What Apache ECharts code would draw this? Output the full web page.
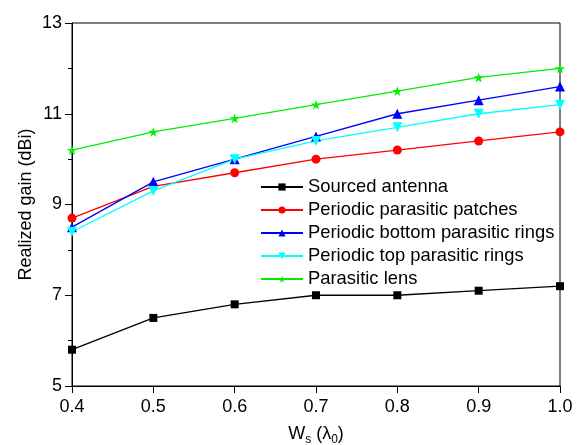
<!DOCTYPE html>
<html>
<head>
<meta charset="utf-8">
<script src="https://cdn.jsdelivr.net/npm/echarts@6/dist/echarts.min.js"></script>
<style>
  html, body { margin: 0; padding: 0; background: #fff; }
  #chart { width: 584px; height: 445px; }
</style>
</head>
<body>
<div id="chart"></div>
<script>
// data
const wsValues = [0.4, 0.5, 0.6, 0.7, 0.8, 0.9, 1.0]
const sourcedAntenna = [5.8, 6.5, 6.8, 7.0, 7.0, 7.1, 7.2]
const parasiticPatches = [8.7, 9.4, 9.7, 10.0, 10.2, 10.4, 10.6]
const bottomRings = [8.5, 9.5, 10.0, 10.5, 11.0, 11.3, 11.6]
const topRings = [8.4, 9.3, 10.0, 10.4, 10.7, 11.0, 11.2]
const parasiticLens = [10.2, 10.6, 10.9, 11.2, 11.5, 11.8, 12.0]

const font = 'Liberation Sans, Arial, sans-serif'
const starPath = 'path://M50,0 L61,35 L98,35 L68,57 L79,91 L50,70 L21,91 L32,57 L2,35 L39,35 Z'

const pairs = arr => arr.map((v, i) => [wsValues[i], v])

function makeSeries (name, data, color, symbol, size, rotate) {
  return {
    name: name,
    type: 'line',
    data: pairs(data),
    symbol: symbol,
    symbolSize: size,
    symbolRotate: rotate || 0,
    showAllSymbol: true,
    lineStyle: { color: color, width: 1.3 },
    itemStyle: { color: color },
    emphasis: { disabled: true }
  }
}

const chart = echarts.init(document.getElementById('chart'))
chart.setOption({
  animation: false,
  textStyle: { fontFamily: font },
  grid: {
    left: 72, right: 24, top: 23, bottom: 59,
    outerBoundsMode: 'none',
    containLabel: false,
    show: true, borderColor: '#000', borderWidth: 1
  },
  legend: {
    orient: 'vertical',
    left: 260,
    top: 178,
    padding: 0,
    itemWidth: 42,
    itemHeight: 9,
    itemGap: 5,
    textStyle: { fontSize: 18.4, lineHeight: 18, color: '#000', fontFamily: font },
    data: ['Sourced antenna', 'Periodic parasitic patches', 'Periodic bottom parasitic rings',
      'Periodic top parasitic rings', 'Parasitic lens']
  },
  xAxis: {
    type: 'value',
    min: 0.4,
    max: 1.0,
    interval: 0.1,
    name: '{n|W}{s|s}{n| (λ}{s|0}{n|)}',
    nameLocation: 'middle',
    nameMoveOverlap: false,
    nameGap: 36,
    nameTextStyle: {
      rich: {
        n: { fontSize: 18, color: '#000', fontFamily: font },
        s: { fontSize: 12, color: '#000', verticalAlign: 'bottom', padding: [12, 0, 0, 0], fontFamily: font }
      }
    },
    axisLine: { lineStyle: { color: '#000', width: 1 } },
    axisTick: { show: true, length: 7, lineStyle: { color: '#000' } },
    axisLabel: { fontSize: 18, color: '#000', margin: 12, formatter: v => v.toFixed(1) },
    splitLine: { show: false }
  },
  yAxis: {
    type: 'value',
    min: 5,
    max: 13,
    interval: 2,
    name: 'Realized gain (dBi)',
    nameLocation: 'middle',
    nameMoveOverlap: false,
    nameGap: 37,
    nameTextStyle: { fontSize: 18, color: '#000' },
    axisLine: { show: true, lineStyle: { color: '#000', width: 1 } },
    axisTick: { show: true, length: 7, lineStyle: { color: '#000' } },
    minorTick: { show: true, splitNumber: 2, length: 4, lineStyle: { color: '#000' } },
    axisLabel: { fontSize: 18, color: '#000', margin: 10 },
    splitLine: { show: false }
  },
  series: [
    makeSeries('Sourced antenna', sourcedAntenna, '#000000', 'rect', 8),
    makeSeries('Periodic parasitic patches', parasiticPatches, '#ff0000', 'circle', 9),
    makeSeries('Periodic bottom parasitic rings', bottomRings, '#0000ff', 'triangle', 10),
    makeSeries('Periodic top parasitic rings', topRings, '#00ffff', 'triangle', 10, 180),
    makeSeries('Parasitic lens', parasiticLens, '#00ee00', starPath, 10)
  ]
})
</script>
</body>
</html>
